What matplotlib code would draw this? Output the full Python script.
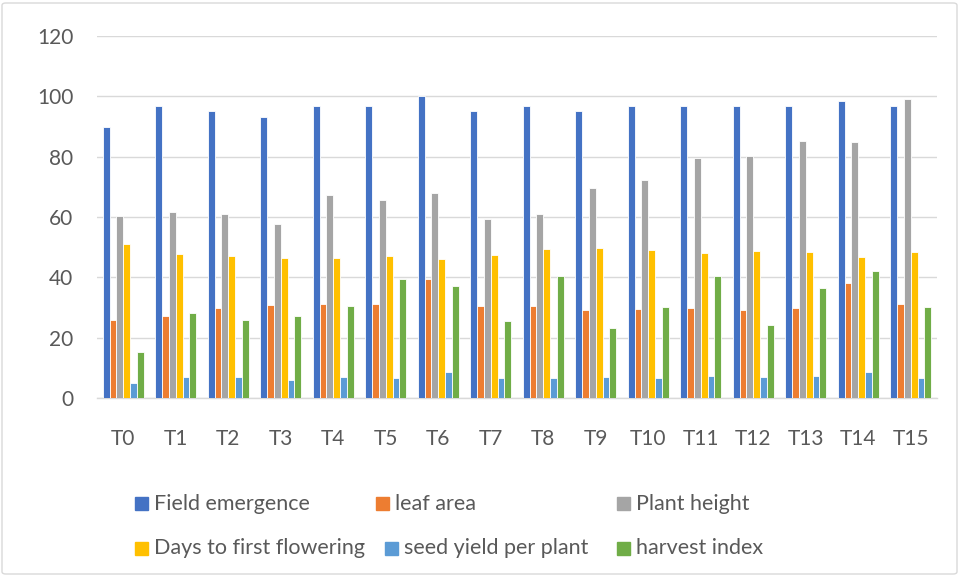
import matplotlib
matplotlib.use("Agg")
import matplotlib.pyplot as plt
import numpy as np
from matplotlib.patches import Rectangle, FancyBboxPatch

plt.rcParams['font.family'] = ['Lato', 'DejaVu Sans']

categories = ["T0", "T1", "T2", "T3", "T4", "T5", "T6", "T7", "T8", "T9",
              "T10", "T11", "T12", "T13", "T14", "T15"]
field_emergence = [90, 96.7, 95, 93.3, 96.7, 96.7, 100, 95, 96.7, 95, 96.7, 96.7, 96.7, 96.7, 98.3, 96.7]
leaf_area = [25.8, 27.3, 30, 30.7, 31.3, 31, 39.3, 30.6, 30.4, 29.3, 29.6, 29.9, 29.3, 30, 38, 31]
plant_height = [60.2, 61.8, 61, 57.8, 67.3, 65.8, 67.9, 59.3, 61.1, 69.6, 72.3, 79.5, 80.2, 85.3, 85, 99]
days_flowering = [51, 47.7, 47, 46.3, 46.3, 47, 46, 47.4, 49.3, 49.6, 49, 48, 48.6, 48.4, 46.6, 48.5]
seed_yield = [5, 6.8, 7, 6.1, 7, 6.5, 8.6, 6.6, 6.5, 6.8, 6.7, 7.2, 6.9, 7.2, 8.5, 6.7]
harvest_index = [15.2, 28.1, 26, 27.3, 30.4, 39.3, 37.2, 25.5, 40.4, 23.1, 30.2, 40.5, 24.1, 36.3, 42.2, 30.2]

series_names = ["Field emergence", "leaf area", "Plant height",
                "Days to first flowering", "seed yield per plant", "harvest index"]
series = [field_emergence, leaf_area, plant_height, days_flowering, seed_yield, harvest_index]
colors = ["#4472C4", "#ED7D31", "#A5A5A5", "#FFC000", "#5B9BD5", "#70AD47"]

W, H = 960, 576
fig = plt.figure(figsize=(9.6, 5.76), dpi=100)

# outer chart border
fig.patches.append(FancyBboxPatch((2/W, 2/H), (W-5)/W, (H-5)/H,
                                  boxstyle="round,pad=0,rounding_size=0.004",
                                  transform=fig.transFigure, fill=False,
                                  edgecolor="#D9D9D9", linewidth=1.0))

ax = fig.add_axes([97/W, 1-398/H, (937-97)/W, (398-36)/H])
x = np.arange(len(categories))
bw = 0.13
n = len(series)
for i, (vals, c) in enumerate(zip(series, colors)):
    ax.bar(x + (i - (n-1)/2) * bw, vals, width=bw, color=c,
           edgecolor="white", linewidth=0.6, zorder=3)

ax.set_xlim(-0.5, len(categories) - 0.5)
ax.set_ylim(0, 120)
ax.set_yticks(range(0, 121, 20))
ax.set_xticks(x)
ax.set_xticklabels(categories)
ax.grid(axis='y', color="#D9D9D9", linewidth=1.0, zorder=0)
for s in ["top", "right", "left"]:
    ax.spines[s].set_visible(False)
ax.spines["bottom"].set_color("#D9D9D9")
ax.spines["bottom"].set_linewidth(1.0)
ax.tick_params(axis='both', length=0, labelsize=15, colors="#595959")
ax.tick_params(axis='x', pad=22)
ax.tick_params(axis='y', pad=17)

# legend (manual placement like Excel)
pos = [(135, 503.5), (376, 503.5), (617, 503.5), (135, 548.5), (385, 548.5), (617, 548.5)]
for (px, py), name, c in zip(pos, series_names, colors):
    fig.patches.append(Rectangle((px/W, (H-py-6.5)/H), 13/W, 13/H,
                                 transform=fig.transFigure, color=c))
    fig.text((px+19)/W, (H-py)/H, name, fontsize=15.5, color="#595959",
             va="center", ha="left")

fig.savefig("out.png", dpi=100)
